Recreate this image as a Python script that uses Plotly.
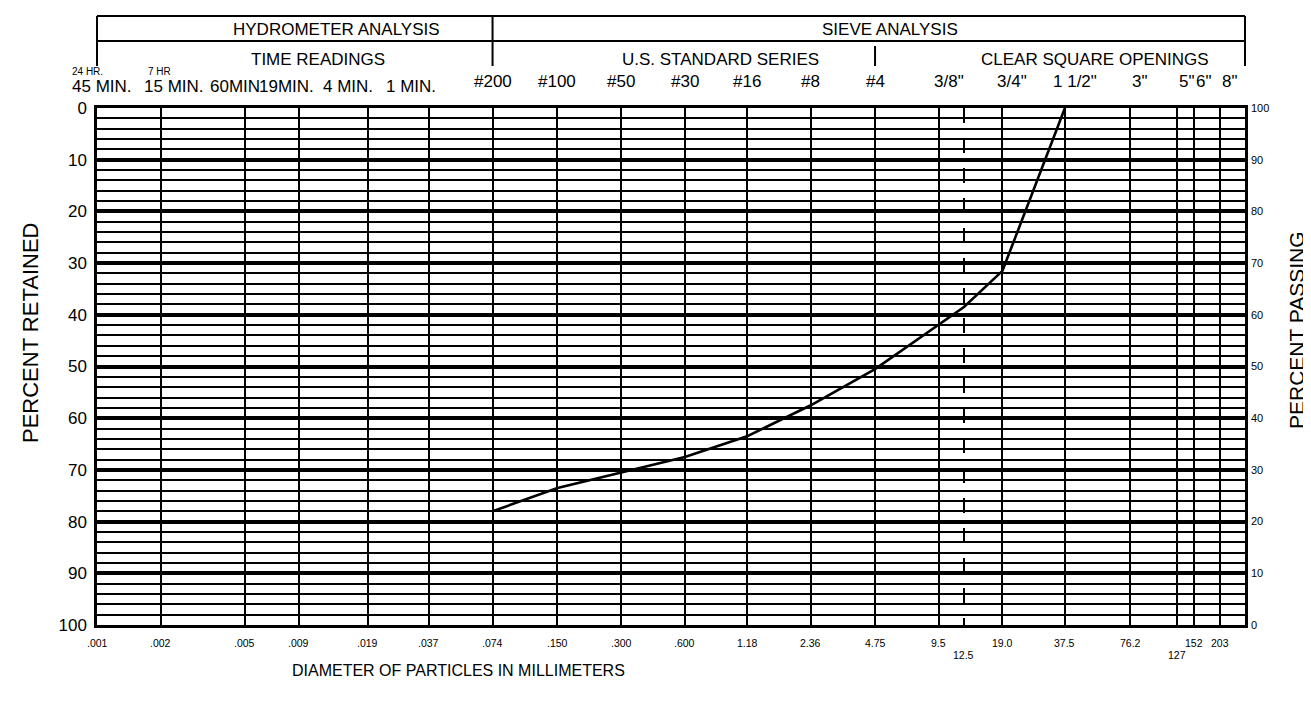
import numpy as np
import plotly.graph_objects as go

# ---------------- data ----------------
grid_diameters = [0.001, 0.002, 0.005, 0.009, 0.019, 0.037, 0.074, 0.150, 0.300, 0.600,
                  1.18, 2.36, 4.75, 9.5, 19.0, 37.5, 76.2, 127, 152, 203]
bottom_labels = [".001", ".002", ".005", ".009", ".019", ".037", ".074", ".150", ".300", ".600",
                 "1.18", "2.36", "4.75", "9.5", "19.0", "37.5", "76.2", "127", "152", "203"]
dashed_diameter = [12.5]
dashed_label = ["12.5"]

top_labels = ["45 MIN.", "15 MIN.", "60MIN", "19MIN.", "4 MIN.", "1 MIN.",
              "#200", "#100", "#50", "#30", "#16", "#8", "#4",
              "3/8\"", "3/4\"", "1 1/2\"", "3\"", "5\"", "6\"", "8\""]
top_label_diam = [0.001, 0.002, 0.005, 0.009, 0.019, 0.037,
                  0.074, 0.150, 0.300, 0.600, 1.18, 2.36, 4.75,
                  9.5, 19.0, 37.5, 76.2, 127, 152, 203]
hour_labels = ["24 HR.", "7 HR"]
hour_label_diam = [0.001, 0.002]

sample_diam = [0.074, 0.150, 0.300, 0.600, 1.18, 2.36, 4.75, 9.5, 12.5, 19.0, 37.5]
percent_passing = [22, 26.5, 29.5, 32.5, 36.5, 42.5, 49.5, 58, 61.5, 68.5, 100]

pct_ticks = list(range(0, 101, 10))

FONT = "Liberation Sans, Arial, sans-serif"

percent_retained = [100 - p for p in percent_passing]

fig = go.Figure()
# same curve expressed on the left (retained) scale, kept invisible so the left axis renders
fig.add_trace(go.Scatter(
    x=sample_diam, y=percent_retained, yaxis="y", mode="lines",
    line=dict(color="rgba(0,0,0,0)", width=0), showlegend=False, hoverinfo="skip"))
fig.add_trace(go.Scatter(
    x=sample_diam, y=percent_passing, yaxis="y2", mode="lines",
    line=dict(color="black", width=2.6), showlegend=False, hoverinfo="skip"))

fig.update_layout(
    width=1311, height=701,
    margin=dict(l=89, r=74, t=100, b=84, autoexpand=False),
    paper_bgcolor="white", plot_bgcolor="white",
    font=dict(family=FONT, color="black"),
    showlegend=False,
    xaxis=dict(
        type="log", range=[-3, 2.425], automargin=False,
        tickmode="array", tickvals=grid_diameters, showticklabels=False, ticks="",
        showgrid=True, gridcolor="black", gridwidth=2.2,
        showline=True, mirror=True, linecolor="black", linewidth=2.5,
        zeroline=False,
        minor=dict(tickmode="array", tickvals=dashed_diameter, showgrid=True,
                   gridcolor="black", gridwidth=2.2, griddash="longdash", ticks=""),
    ),
    yaxis=dict(
        range=[100, 0], tickmode="array", tickvals=pct_ticks, automargin=False,
        ticktext=[str(v) for v in pct_ticks], tickfont=dict(size=17),
        ticklabelstandoff=4,
        showgrid=True, gridcolor="black", gridwidth=3.5,
        minor=dict(tick0=0, dtick=2, showgrid=True, gridcolor="black", gridwidth=1.8),
        showline=True, mirror=True, linecolor="black", linewidth=2.5,
        zeroline=False, ticks="",
    ),
    yaxis2=dict(
        overlaying="y", side="right", range=[0, 100], automargin=False,
        tickmode="array", tickvals=pct_ticks, tickfont=dict(size=11),
        ticklabelstandoff=5,
        showgrid=False, zeroline=False, showline=False, ticks="",
    ),
)


def px_to_paper_x(p):
    return (p - 89) / 1148.0


def px_to_paper_y(p):
    return (617 - p) / 517.0


ann = []
# bottom diameter labels
low_set = {"127"}
for d, lab in zip(grid_diameters, bottom_labels):
    ys = -12 if lab in low_set else 0
    ann.append(dict(x=np.log10(d), y=0, xref="x", yref="paper", text=lab,
                    showarrow=False, yanchor="top", xanchor="center", yshift=-10 + ys,
                    font=dict(size=10.5)))
for d, lab in zip(dashed_diameter, dashed_label):
    ann.append(dict(x=np.log10(d), y=0, xref="x", yref="paper", text=lab,
                    showarrow=False, yanchor="top", xanchor="center", yshift=-22,
                    font=dict(size=10.5)))

# top sieve / time labels
time_shift = {"45 MIN.": 5, "15 MIN.": 13, "60MIN": -10, "19MIN.": -12,
              "4 MIN.": -20, "1 MIN.": -18}
for d, lab in zip(top_label_diam, top_labels):
    is_inch = '"' in lab
    is_time = "MIN" in lab
    if is_time:
        xs = time_shift.get(lab, 0)
    elif is_inch:
        xs = 10
    else:
        xs = 0
    ann.append(dict(x=np.log10(d), y=1, xref="x", yref="paper", text=lab,
                    showarrow=False, yanchor="bottom", xanchor="center",
                    yshift=10 if is_time else 15, xshift=xs,
                    font=dict(size=17)))
for d, lab in zip(hour_label_diam, hour_labels):
    ann.append(dict(x=np.log10(d), y=1, xref="x", yref="paper", text=lab,
                    showarrow=False, yanchor="bottom", xanchor="left",
                    yshift=29, xshift=-27 if lab == "24 HR." else -15,
                    font=dict(size=10)))

# header titles
header = [("HYDROMETER ANALYSIS", 328, 21), ("TIME READINGS", 310, 51),
          ("SIEVE ANALYSIS", 882, 21), ("U.S. STANDARD SERIES", 712, 51),
          ("CLEAR SQUARE OPENINGS", 1087, 51)]
for txt, px, py in header:
    ann.append(dict(x=px_to_paper_x(px), y=px_to_paper_y(py), xref="paper", yref="paper",
                    text=txt, showarrow=False, xanchor="center", yanchor="middle",
                    font=dict(size=17)))

# axis titles
ann.append(dict(x=px_to_paper_x(450), y=px_to_paper_y(662), xref="paper", yref="paper",
                text="DIAMETER OF PARTICLES IN MILLIMETERS", showarrow=False,
                xanchor="center", yanchor="middle", font=dict(size=16)))
ann.append(dict(x=px_to_paper_x(22), y=px_to_paper_y(325), xref="paper", yref="paper",
                text="PERCENT RETAINED", showarrow=False, textangle=-90,
                xanchor="center", yanchor="middle", font=dict(size=22)))
ann.append(dict(x=px_to_paper_x(1288), y=px_to_paper_y(322), xref="paper", yref="paper",
                text="PERCENT PASSING", showarrow=False, textangle=-90,
                xanchor="center", yanchor="middle", font=dict(size=21)))
fig.update_layout(annotations=ann)

# header frame
ytop, ymid, ybot = px_to_paper_y(8), px_to_paper_y(33), px_to_paper_y(58)
shapes = [
    dict(type="line", xref="paper", yref="paper", x0=0, x1=1, y0=ytop, y1=ytop,
         line=dict(color="black", width=2.2)),
    dict(type="line", xref="paper", yref="paper", x0=0, x1=1, y0=ymid, y1=ymid,
         line=dict(color="black", width=1.8)),
    dict(type="line", xref="paper", yref="paper", x0=0, x1=0, y0=ybot, y1=ytop,
         line=dict(color="black", width=2)),
    dict(type="line", xref="paper", yref="paper", x0=1, x1=1, y0=ybot, y1=ytop,
         line=dict(color="black", width=2)),
    dict(type="line", xref="x", yref="paper", x0=0.074, x1=0.074, y0=ybot, y1=ytop,
         line=dict(color="black", width=2)),
    dict(type="line", xref="x", yref="paper", x0=4.75, x1=4.75, y0=ybot,
         y1=px_to_paper_y(38), line=dict(color="black", width=2)),
]
fig.update_layout(shapes=shapes)

fig.write_html("out.html")
